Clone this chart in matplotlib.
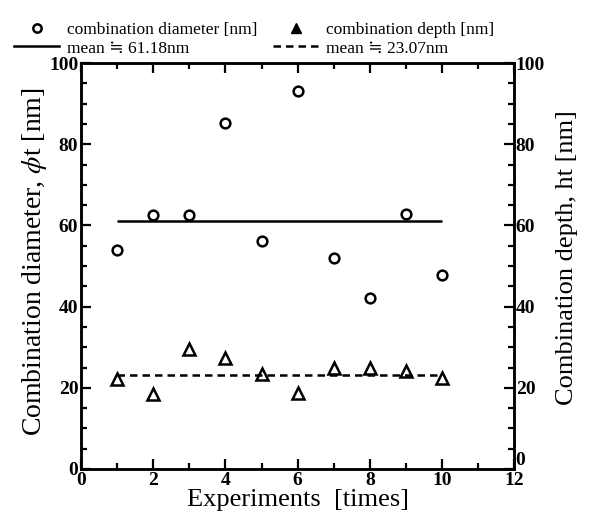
import numpy as np
import matplotlib
matplotlib.use('Agg')
import matplotlib.pyplot as plt
from matplotlib.lines import Line2D
from matplotlib.ticker import MultipleLocator

plt.rcParams['font.family'] = ['Liberation Serif', 'DejaVu Serif']
plt.rcParams['mathtext.fontset'] = 'stix'

# data
experiments = [1, 2, 3, 4, 5, 6, 7, 8, 9, 10]
diameter = [53.9, 62.5, 62.5, 85.3, 56.1, 93.2, 52.0, 42.1, 62.9, 47.9]
depth = [22.1, 18.4, 29.6, 27.3, 23.4, 18.7, 24.9, 24.9, 24.2, 22.4]
mean_diameter = 61.18
mean_depth = 23.07

fig = plt.figure(figsize=(6.12, 5.25), dpi=100)
ax = fig.add_axes([0.1324, 0.1067, 0.708, 0.773])
ax2 = ax.twinx()

ax.plot(experiments, diameter, 'o', mfc='white', mec='black', mew=1.8, ms=7)
ax.hlines(mean_diameter, experiments[0], experiments[-1], colors='black', lw=1.8)
ax2.plot(experiments, depth, '^', mfc='white', mec='black', mew=1.8, ms=9)
ax2.hlines(mean_depth, experiments[0], experiments[-1], colors='black', lw=1.8,
           linestyles=(0, (3, 2)))

for a in (ax, ax2):
    a.set_ylim(0, 100)
    a.yaxis.set_major_locator(MultipleLocator(20))
    a.yaxis.set_minor_locator(MultipleLocator(5))
    for s in a.spines.values():
        s.set_linewidth(1.8)
ax.set_xlim(0, 12)
ax.xaxis.set_major_locator(MultipleLocator(2))
ax.xaxis.set_minor_locator(MultipleLocator(1))

ax.tick_params(which='both', direction='in', top=True, width=1.6, labelsize=14, pad=2)
ax.tick_params(which='major', length=7)
ax.tick_params(which='minor', length=4)
ax2.tick_params(which='both', direction='in', width=1.6, labelsize=14, pad=1)
ax2.tick_params(which='major', length=7)
ax2.tick_params(which='minor', length=4)

ax.set_xlabel('Experiments  [times]', fontsize=19, labelpad=0)
ax.set_ylabel(r'Combination diameter, $\phi$t [nm]', fontsize=20)
ax2.set_ylabel('Combination depth, ht [nm]', fontsize=19)
ax.yaxis.set_label_coords(-0.074, 0.51)
ax2.yaxis.set_label_coords(1.097, 0.522)

handles = [
    Line2D([], [], ls='none', marker='o', mfc='white', mec='black', mew=1.8, ms=6),
    Line2D([], [], color='black', lw=1.8),
    Line2D([], [], ls='none', marker='^', mfc='black', mec='black', ms=7),
    Line2D([], [], color='black', lw=1.8, ls=(0, (3, 2))),
]
labels = ['combination diameter [nm]', 'mean \u2252 61.18nm',
          'combination depth [nm]', 'mean \u2252 23.07nm']
fig.legend(handles, labels, ncol=2, loc='upper left', bbox_to_anchor=(0.012, 0.972),
           frameon=False, fontsize=12.5, handlelength=2.6, handletextpad=0.45,
           columnspacing=0.9, labelspacing=0.15, borderaxespad=0)

fig.canvas.draw()
for lbl in ax.get_xticklabels() + ax.get_yticklabels() + ax2.get_yticklabels():
    lbl.set_fontweight('bold')
for lbl in ax2.get_yticklabels():
    if lbl.get_text() == '0':
        lbl.set_va('bottom')

fig.savefig('out.png', dpi=100)
